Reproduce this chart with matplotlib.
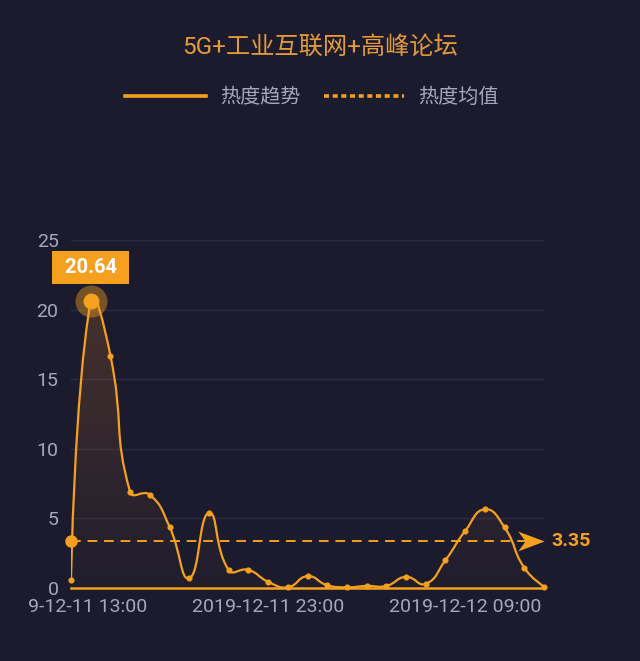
import matplotlib
matplotlib.use("Agg")
import matplotlib.pyplot as plt
import numpy as np
from matplotlib.path import Path
from matplotlib.patches import PathPatch
from matplotlib.lines import Line2D
from matplotlib.transforms import Bbox, TransformedBbox

# hourly heat values, 2019-12-11 13:00 .. 2019-12-12 13:00
hours = list(range(25))
heat = [0.6, 20.64, 16.7, 6.9, 6.7, 4.4, 0.7, 5.4, 1.3, 1.3, 0.45, 0.05, 0.85,
        0.2, 0.05, 0.15, 0.15, 0.8, 0.3, 2.0, 4.1, 5.65, 4.35, 1.45, 0.1]
heat_mean = 3.35
tick_pos = [0, 10, 20]
tick_labels = ["2019-12-11 13:00", "2019-12-11 23:00", "2019-12-12 09:00"]
title = "5G+工业互联网+高峰论坛"
series_names = ["热度趋势", "热度均值"]

BG = "#1c1b2e"
ORANGE = "#f5a01e"
TXT = "#a6a6be"
GRID = "#2c2b43"

plt.rcParams["font.family"] = ["Roboto", "Noto Sans CJK SC", "DejaVu Sans"]


def smooth_path(xs, ys, sx, sy, smooth=0.5):
    # echarts-like bezier smoothing, computed in pixel-ish space
    p = np.column_stack([np.asarray(xs, float) * sx, np.asarray(ys, float) * sy])
    n = len(p)
    cin = p.copy()
    cout = p.copy()
    for i in range(1, n - 1):
        v = (p[i + 1] - p[i - 1]) * smooth
        d0 = np.hypot(*(p[i] - p[i - 1]))
        d1 = np.hypot(*(p[i + 1] - p[i]))
        s = d0 + d1
        if s:
            d0, d1 = d0 / s, d1 / s
        cin[i] = p[i] - v * d0
        cout[i] = p[i] + v * d1
    verts = [p[0]]
    codes = [Path.MOVETO]
    for i in range(n - 1):
        verts += [cout[i], cin[i + 1], p[i + 1]]
        codes += [Path.CURVE4] * 3
    verts = np.array(verts) / [sx, sy]
    return verts, codes


fig = plt.figure(figsize=(6.4, 6.61), dpi=100, facecolor=BG)
ax = fig.add_axes([71 / 640, (661 - 588) / 661, (544 - 71) / 640, (588 - 240) / 661])
ax.set_facecolor(BG)
ax.set_xlim(0, 24)
ax.set_ylim(0, 25)
for s in ax.spines.values():
    s.set_visible(False)

ax.set_yticks([0, 5, 10, 15, 20, 25])
for yv in [5, 10, 15, 20, 25]:
    ax.axhline(yv, color=GRID, lw=1, zorder=0)
ax.axhline(0, color=ORANGE, lw=1.8, zorder=3, clip_on=False)

verts, codes = smooth_path(hours, heat, 19.7, 13.92)
line_path = Path(verts, codes)
ax.add_patch(PathPatch(line_path, fill=False, ec=ORANGE, lw=1.6, zorder=4, capstyle="round"))

# gradient fill under the curve
fill_verts = np.vstack([verts, [[hours[-1], 0], [hours[0], 0], [hours[0], heat[0]]]])
fill_codes = codes + [Path.LINETO, Path.LINETO, Path.CLOSEPOLY]
fill_patch = PathPatch(Path(fill_verts, fill_codes), fc="none", ec="none")
ax.add_patch(fill_patch)
grad = np.zeros((256, 1, 4))
grad[..., 0] = 0.96
grad[..., 1] = 0.55
grad[..., 2] = 0.15
grad[:, 0, 3] = np.linspace(0.2, 0.02, 256)
img = ax.imshow(grad, extent=[0, 24, 0, max(heat) + 0.5], origin="upper",
                aspect="auto", zorder=2)
img.set_clip_path(fill_patch)

ax.plot(hours, heat, "o", color=ORANGE, ms=3.4, zorder=5, clip_on=False)

# peak highlight
ipk = int(np.argmax(heat))
ax.plot(hours[ipk], heat[ipk], "o", color=ORANGE, ms=23, alpha=0.42, mec="none",
        zorder=6, clip_on=False)
ax.plot(hours[ipk], heat[ipk], "o", color=ORANGE, ms=11.5, mec="none", zorder=7, clip_on=False)
ax.annotate(f" {heat[ipk]:.2f} ", (hours[ipk], heat[ipk]), xytext=(0, 24),
            textcoords="offset points", ha="center", va="center", color="white",
            fontsize=14.5, fontweight="bold", zorder=8, annotation_clip=False,
            bbox=dict(boxstyle="square,pad=0.36", fc=ORANGE, ec="none"))

# mean line
arrow = [(-1, -0.75), (1, 0), (-1, 0.75), (-0.45, 0), (-1, -0.75)]
ax.plot([hours[0], hours[-1] - 0.65], [heat_mean, heat_mean], color=ORANGE, lw=1.4,
        dashes=(5, 3.5), zorder=4)
ax.plot(hours[0], heat_mean, "o", color=ORANGE, ms=9, mec="none", zorder=6, clip_on=False)
ax.plot(hours[-1] - 0.65, heat_mean, marker=arrow, color=ORANGE, ms=19, mec="none",
        zorder=6, clip_on=False)
ax.annotate(f"{heat_mean:.2f}", (hours[-1], heat_mean), xytext=(5.5, 0),
            textcoords="offset points", ha="left", va="center", color=ORANGE,
            fontsize=14, fontweight="bold", annotation_clip=False)

ax.set_xticks(tick_pos)
ax.set_xticklabels(tick_labels)
ax.tick_params(axis="both", length=0, labelsize=14, labelcolor=TXT)
ax.tick_params(axis="x", pad=7)
ax.tick_params(axis="y", pad=9)
clip = TransformedBbox(Bbox([[28 / 640, 0], [1, 1]]), fig.transFigure)
for lab in ax.get_xticklabels():
    lab.set_clip_box(clip)
    lab.set_clip_on(True)

fig.text(0.5, 1 - 47 / 661, title, ha="center", va="center", color="#e39a3b", fontsize=17.5)

handles = [Line2D([], [], color=ORANGE, lw=2.6),
           Line2D([], [], color=ORANGE, lw=2.6, linestyle=(0, (1.4, 1.0)))]
fig.legend(handles, series_names, loc="center", bbox_to_anchor=(0.5 - 8 / 640, 1 - 97 / 661),
           ncol=2, frameon=False, fontsize=14.5, labelcolor=TXT, handlelength=4,
           handletextpad=0.7, columnspacing=1.15)

fig.savefig("out.png", dpi=100, facecolor=BG)
